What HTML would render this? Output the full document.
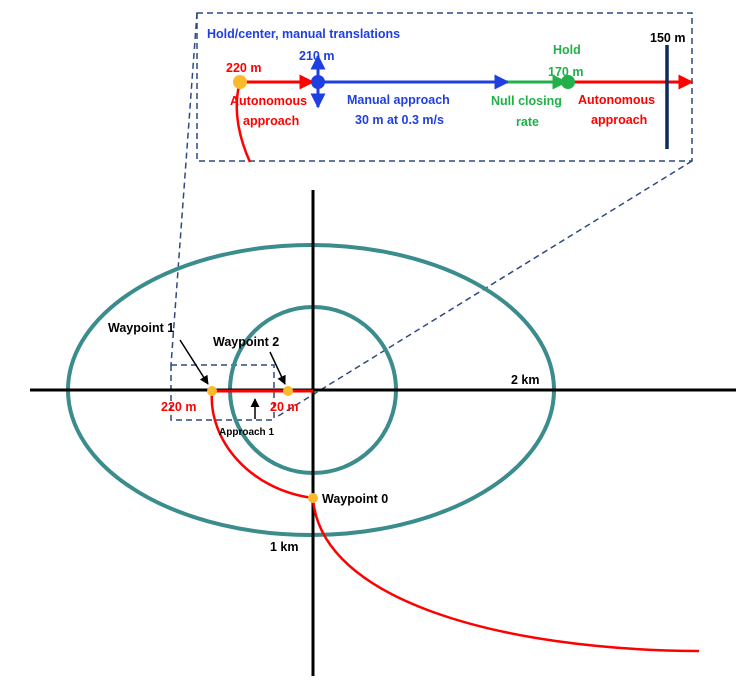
<!DOCTYPE html>
<html><head><meta charset="utf-8"><style>
html,body{margin:0;padding:0;background:#fff;}
svg{display:block;font-family:"Liberation Sans",sans-serif;font-weight:bold;}
</style></head><body>
<svg width="755" height="700" viewBox="0 0 755 700" xmlns="http://www.w3.org/2000/svg">
<defs>
<marker id="ar" viewBox="0 0 10 10" refX="9" refY="5" markerWidth="5" markerHeight="5" orient="auto"><path d="M0,0 L10,5 L0,10z" fill="#ff0000"/></marker>
<marker id="ab" viewBox="0 0 10 10" refX="9" refY="5" markerWidth="5" markerHeight="5" orient="auto"><path d="M0,0 L10,5 L0,10z" fill="#1f3fe0"/></marker>
<marker id="ag" viewBox="0 0 10 10" refX="9" refY="5" markerWidth="5" markerHeight="5" orient="auto"><path d="M0,0 L10,5 L0,10z" fill="#22b04a"/></marker>
<marker id="ak" viewBox="0 0 10 10" refX="9" refY="5" markerWidth="6" markerHeight="6" orient="auto"><path d="M0,0 L10,5 L0,10z" fill="#000"/></marker>
</defs>
<!-- dashed box and projections -->
<g stroke="#2e4a80" stroke-width="1.5" stroke-dasharray="6,4" fill="none">
<rect x="197" y="13" width="495" height="148"/>
<line x1="197" y1="13" x2="171" y2="365"/>
<line x1="692" y1="161" x2="275" y2="418"/>
<rect x="171" y="365" width="103" height="55"/>
</g>
<!-- ellipses -->
<ellipse cx="311" cy="390" rx="243" ry="145" fill="none" stroke="#3b8c8c" stroke-width="4"/>
<circle cx="313" cy="390" r="83" fill="none" stroke="#3b8c8c" stroke-width="4"/>
<!-- axes -->
<line x1="30" y1="390" x2="736" y2="390" stroke="#000" stroke-width="3"/>
<line x1="313" y1="190" x2="313" y2="676" stroke="#000" stroke-width="3"/>
<!-- red path -->
<line x1="212" y1="391" x2="313" y2="391" stroke="#ff0000" stroke-width="3"/>
<path d="M212,391 C208,440 250,490 313,498" fill="none" stroke="#ff0000" stroke-width="2.5"/>
<path d="M313,498 C320,600 500,650 699,651" fill="none" stroke="#ff0000" stroke-width="2.5"/>
<circle cx="212" cy="391" r="5" fill="#fbb92c"/>
<circle cx="288" cy="391" r="5" fill="#fbb92c"/>
<circle cx="313" cy="498" r="5" fill="#fbb92c"/>
<!-- pointer arrows -->
<line x1="180" y1="340" x2="208" y2="384" stroke="#000" stroke-width="1.5" marker-end="url(#ak)"/>
<line x1="270" y1="352" x2="285" y2="384" stroke="#000" stroke-width="1.5" marker-end="url(#ak)"/>
<line x1="255" y1="419" x2="255" y2="399" stroke="#000" stroke-width="1.5" marker-end="url(#ak)"/>
<!-- labels main -->
<g font-size="12.5" fill="#000">
<text x="108" y="332">Waypoint 1</text>
<text x="213" y="346">Waypoint 2</text>
<text x="322" y="503">Waypoint 0</text>
<text x="511" y="384">2 km</text>
<text x="270" y="551">1 km</text>
<text x="219" y="435" font-size="10">Approach 1</text>
</g>
<g font-size="12.5" fill="#ff0000">
<text x="161" y="411">220 m</text>
<text x="270" y="411">20 m</text>
</g>
<!-- top inset -->
<path d="M240,82 C232,110 240,140 250,162" fill="none" stroke="#ff0000" stroke-width="2.5"/>
<line x1="240" y1="82" x2="313" y2="82" stroke="#ff0000" stroke-width="3" marker-end="url(#ar)"/>
<line x1="318" y1="82" x2="508" y2="82" stroke="#1f3fe0" stroke-width="3" marker-end="url(#ab)"/>
<line x1="508" y1="82" x2="566" y2="82" stroke="#22b04a" stroke-width="3" marker-end="url(#ag)"/>
<line x1="570" y1="82" x2="692" y2="82" stroke="#ff0000" stroke-width="3" marker-end="url(#ar)"/>
<line x1="318" y1="82" x2="318" y2="56" stroke="#1f3fe0" stroke-width="3" marker-end="url(#ab)"/>
<line x1="318" y1="82" x2="318" y2="107" stroke="#1f3fe0" stroke-width="3" marker-end="url(#ab)"/>
<circle cx="240" cy="82" r="7" fill="#fbb92c"/>
<circle cx="318" cy="82" r="7" fill="#1f3fe0"/>
<circle cx="568" cy="82" r="7" fill="#22b04a"/>
<line x1="667" y1="45" x2="667" y2="149" stroke="#0b2a5e" stroke-width="3.5"/>
<g font-size="12.5">
<text x="207" y="38" fill="#1f3fe0">Hold/center, manual translations</text>
<text x="299" y="60" fill="#1f3fe0">210 m</text>
<text x="226" y="72" fill="#ff0000">220 m</text>
<text x="230" y="105" fill="#ff0000">Autonomous</text>
<text x="243" y="125" fill="#ff0000">approach</text>
<text x="347" y="104" fill="#1f3fe0">Manual approach</text>
<text x="355" y="124" fill="#1f3fe0">30 m at 0.3 m/s</text>
<text x="553" y="54" fill="#22b04a">Hold</text>
<text x="548" y="76" fill="#22b04a">170 m</text>
<text x="491" y="105" fill="#22b04a">Null closing</text>
<text x="516" y="126" fill="#22b04a">rate</text>
<text x="578" y="104" fill="#ff0000">Autonomous</text>
<text x="591" y="124" fill="#ff0000">approach</text>
<text x="650" y="42" fill="#000">150 m</text>
</g>
</svg>
</body></html>
